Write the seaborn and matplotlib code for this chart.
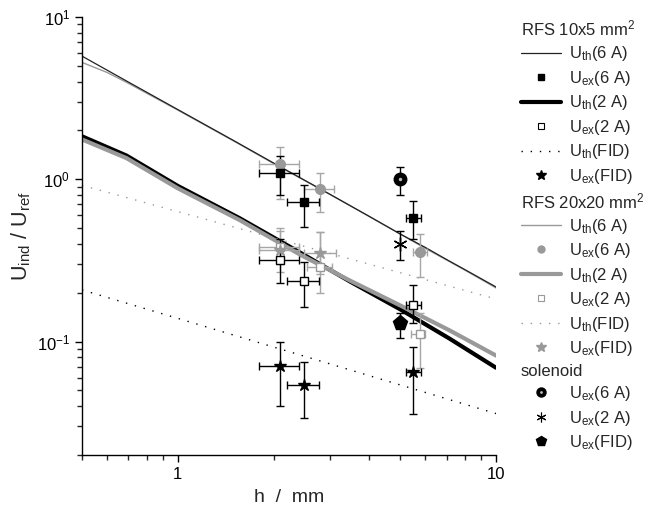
import numpy as np
import matplotlib
matplotlib.use('Agg')
import matplotlib.pyplot as plt
from matplotlib.lines import Line2D
from matplotlib.ticker import FixedLocator, FixedFormatter, NullFormatter
import seaborn as sns

# theory curves, 6 A (thin lines)
th6_x = [0.5, 0.6, 0.7, 1, 1.5, 2, 3, 4, 5, 6, 7, 8, 10]
th6_rfs10 = [5.74, 4.70, 3.97, 2.69, 1.73, 1.26, 0.81, 0.59, 0.46, 0.38, 0.32, 0.277, 0.217]
th6_rfs20 = [5.25, 4.55, 3.90, 2.67, 1.72, 1.25, 0.81, 0.59, 0.46, 0.375, 0.318, 0.275, 0.214]

# theory curves, 2 A (thick lines)
th2_x = [0.5, 0.69, 1.0, 1.566, 2.42, 3.47, 5.0, 7.16, 10]
th2_rfs10 = [1.84, 1.40, 0.91, 0.575, 0.354, 0.235, 0.158, 0.104, 0.069]
th2_rfs20 = [1.76, 1.35, 0.88, 0.56, 0.344, 0.238, 0.167, 0.117, 0.082]

# theory curves, FID (dotted)
thf_x = [0.5, 1, 10]
thf_rfs10 = [0.208, 0.139, 0.036]
thf_rfs20 = [0.918, 0.632, 0.183]

# measured, RFS 10x5 mm2
ex_x10 = [2.09, 2.50, 5.5]
ex_x10_lo = [1.80, 2.20, 5.2]
ex_x10_hi = [2.40, 2.77, 5.8]
ex6_10 = [1.09, 0.72, 0.58]
ex6_10_lo = [0.80, 0.51, 0.43]
ex6_10_hi = [1.39, 0.92, 0.73]
ex2_10 = [0.316, 0.236, 0.168]
ex2_10_lo = [0.23, 0.163, 0.13]
ex2_10_hi = [0.43, 0.31, 0.222]
exf_10 = [0.071, 0.054, 0.065]
exf_10_lo = [0.040, 0.034, 0.036]
exf_10_hi = [0.10, 0.075, 0.093]

# measured, RFS 20x20 mm2
ex6_20_x = [2.09, 2.80, 5.78]
ex6_20_xlo = [1.80, 2.50, 5.5]
ex6_20_xhi = [2.40, 3.10, 6.07]
ex6_20 = [1.25, 0.87, 0.356]
ex6_20_lo = [0.76, 0.63, 0.25]
ex6_20_hi = [1.58, 1.09, 0.46]
ex2_20_x = [2.09, 2.80, 5.78]
ex2_20_xlo = [1.80, 2.55, 5.4]
ex2_20_xhi = [2.40, 3.05, 6.0]
ex2_20 = [0.38, 0.29, 0.112]
ex2_20_lo = [0.30, 0.198, 0.069]
ex2_20_hi = [0.48, 0.47, 0.15]
exf_20_x = [2.09, 2.80]
exf_20_xlo = [1.80, 2.50]
exf_20_xhi = [2.40, 3.15]
exf_20 = [0.365, 0.35]
exf_20_lo = [0.27, 0.26]
exf_20_hi = [0.50, 0.47]

# solenoid
sol_x = [4.99]
sol6 = [1.0]
sol6_lo = [0.80]
sol6_hi = [1.19]
sol2 = [0.397]
sol2_lo = [0.32]
sol2_hi = [0.48]
solf = [0.13]
solf_lo = [0.105]
solf_hi = [0.15]

sns.set_style('ticks')
plt.rcParams['font.family'] = ['Liberation Sans', 'DejaVu Sans']
plt.rcParams['mathtext.default'] = 'regular'
plt.rcParams['xtick.direction'] = 'out'
plt.rcParams['ytick.direction'] = 'out'

GRAY = '#999999'
EGRAY = '#a6a6a6'
DOT = (0, (1, 5.6))

fig = plt.figure(figsize=(6.54, 5.15), dpi=100)
ax = fig.add_axes([82/654, 60/515, 414/654, 438/515])
ax.set_xscale('log')
ax.set_yscale('log')

# theory lines
sns.lineplot(x=th6_x, y=th6_rfs20, ax=ax, color=GRAY, lw=1.0, sort=False, estimator=None)
sns.lineplot(x=th6_x, y=th6_rfs10, ax=ax, color='#222222', lw=0.9, sort=False, estimator=None)
sns.lineplot(x=th2_x, y=th2_rfs10, ax=ax, color='black', lw=3.0, sort=False, estimator=None)
sns.lineplot(x=th2_x, y=th2_rfs20, ax=ax, color=GRAY, lw=3.0, sort=False, estimator=None)
sns.lineplot(x=thf_x, y=thf_rfs20, ax=ax, color=GRAY, lw=1.0, ls=DOT, sort=False, estimator=None)
sns.lineplot(x=thf_x, y=thf_rfs10, ax=ax, color='black', lw=1.0, ls=DOT, sort=False, estimator=None)


def bars(x, xlo, xhi, y, ylo, yhi, col):
    x, y = np.array(x), np.array(y)
    xerr = None
    if xlo is not None:
        xerr = [x - np.array(xlo), np.array(xhi) - x]
    yerr = [y - np.array(ylo), np.array(yhi) - y]
    ax.errorbar(x, y, xerr=xerr, yerr=yerr, fmt='none', ecolor=col,
                elinewidth=1.0, capsize=3, capthick=1.0, zorder=3)


# RFS 20x20 (gray)
bars(ex6_20_x, ex6_20_xlo, ex6_20_xhi, ex6_20, ex6_20_lo, ex6_20_hi, EGRAY)
bars(ex2_20_x, ex2_20_xlo, ex2_20_xhi, ex2_20, ex2_20_lo, ex2_20_hi, EGRAY)
bars(exf_20_x, exf_20_xlo, exf_20_xhi, exf_20, exf_20_lo, exf_20_hi, EGRAY)
ax.plot(ex6_20_x, ex6_20, 'o', color=GRAY, ms=7, zorder=4)
ax.plot(ex2_20_x, ex2_20, 's', mfc='white', mec=GRAY, mew=1, ms=6, zorder=4)
ax.plot(exf_20_x, exf_20, '*', color=GRAY, ms=9, zorder=4)

# RFS 10x5 (black)
bars(ex_x10, ex_x10_lo, ex_x10_hi, ex6_10, ex6_10_lo, ex6_10_hi, 'black')
bars(ex_x10, ex_x10_lo, ex_x10_hi, ex2_10, ex2_10_lo, ex2_10_hi, 'black')
bars(ex_x10, ex_x10_lo, ex_x10_hi, exf_10, exf_10_lo, exf_10_hi, 'black')
ax.plot(ex_x10, ex6_10, 's', color='black', ms=6, zorder=5)
ax.plot(ex_x10, ex2_10, 's', mfc='white', mec='black', mew=1, ms=6, zorder=5)
ax.plot(ex_x10, exf_10, '*', color='black', ms=9, zorder=5)

# solenoid
bars(sol_x, None, None, sol6, sol6_lo, sol6_hi, 'black')
bars(sol_x, None, None, sol2, sol2_lo, sol2_hi, 'black')
bars(sol_x, None, None, solf, solf_lo, solf_hi, 'black')
ax.plot(sol_x, sol6, 'o', color='black', ms=9, zorder=5)
ax.plot(sol_x, sol6, 'o', color='#bbbbbb', ms=2.5, mew=0, zorder=7)
ax.plot(sol_x, sol2, marker=(6, 2, 0), ls='none', color='black', ms=10, mew=1, zorder=5)
ax.plot(sol_x, solf, 'p', color='black', ms=11, zorder=5)

ax.set_xlim(0.5, 10)
ax.set_ylim(0.02, 10)
ax.xaxis.set_major_locator(FixedLocator([1, 10]))
ax.xaxis.set_major_formatter(FixedFormatter(['1', '10']))
ax.xaxis.set_minor_formatter(NullFormatter())
ax.yaxis.set_minor_formatter(NullFormatter())
ax.tick_params(which='major', length=5, width=1, labelsize=12, colors='black')
ax.tick_params(which='minor', length=3.5, width=1)
for s in ['left', 'bottom']:
    ax.spines[s].set_linewidth(1)
    ax.spines[s].set_color('black')
sns.despine(ax=ax)

ax.set_xlabel('h  /  mm', fontsize=14, labelpad=5)
ax.set_ylabel('U$_{ind}$ / U$_{ref}$', fontsize=15.5, labelpad=3)

# legend
blank = Line2D([], [], ls='none')
handles = [
    blank,
    Line2D([], [], color='#222222', lw=0.9),
    Line2D([], [], ls='none', marker='s', color='black', ms=5),
    Line2D([], [], color='black', lw=3),
    Line2D([], [], ls='none', marker='s', mfc='white', mec='black', mew=0.8, ms=5),
    Line2D([], [], color='black', lw=1, ls=DOT),
    Line2D([], [], ls='none', marker='*', color='black', ms=7),
    blank,
    Line2D([], [], color=GRAY, lw=1),
    Line2D([], [], ls='none', marker='o', color=GRAY, ms=5),
    Line2D([], [], color=GRAY, lw=3),
    Line2D([], [], ls='none', marker='s', mfc='white', mec=GRAY, mew=0.8, ms=5),
    Line2D([], [], color=GRAY, lw=1, ls=DOT),
    Line2D([], [], ls='none', marker='*', color=GRAY, ms=7),
    blank,
    (Line2D([], [], ls='none', marker='o', color='black', ms=6.5),
     Line2D([], [], ls='none', marker='o', color='#bbbbbb', mew=0, ms=2)),
    Line2D([], [], ls='none', marker=(6, 2, 0), color='black', ms=7, mew=0.8),
    Line2D([], [], ls='none', marker='p', color='black', ms=7),
]
headers = ['RFS 10x5 mm$^2$', 'RFS 20x20 mm$^2$', 'solenoid']
labels = [
    headers[0], 'U$_{th}$(6 A)', 'U$_{ex}$(6 A)', 'U$_{th}$(2 A)', 'U$_{ex}$(2 A)',
    'U$_{th}$(FID)', 'U$_{ex}$(FID)',
    headers[1], 'U$_{th}$(6 A)', 'U$_{ex}$(6 A)', 'U$_{th}$(2 A)', 'U$_{ex}$(2 A)',
    'U$_{th}$(FID)', 'U$_{ex}$(FID)',
    headers[2], 'U$_{ex}$(6 A)', 'U$_{ex}$(2 A)', 'U$_{ex}$(FID)',
]
HL, HP, FS = 2.4, 0.5, 12
leg = fig.legend(handles, labels, loc='upper left',
                 bbox_to_anchor=(521/654, 1 - 19/515), frameon=False,
                 fontsize=FS, handlelength=HL, handletextpad=HP,
                 labelspacing=0.33, borderpad=0, borderaxespad=0)
fig.canvas.draw()
shift = (HL + HP) * FS * fig.dpi / 72
for t in leg.get_texts():
    if t.get_text() in headers:
        t.set_position((-shift, 0))

fig.savefig('out.png', dpi=100)
